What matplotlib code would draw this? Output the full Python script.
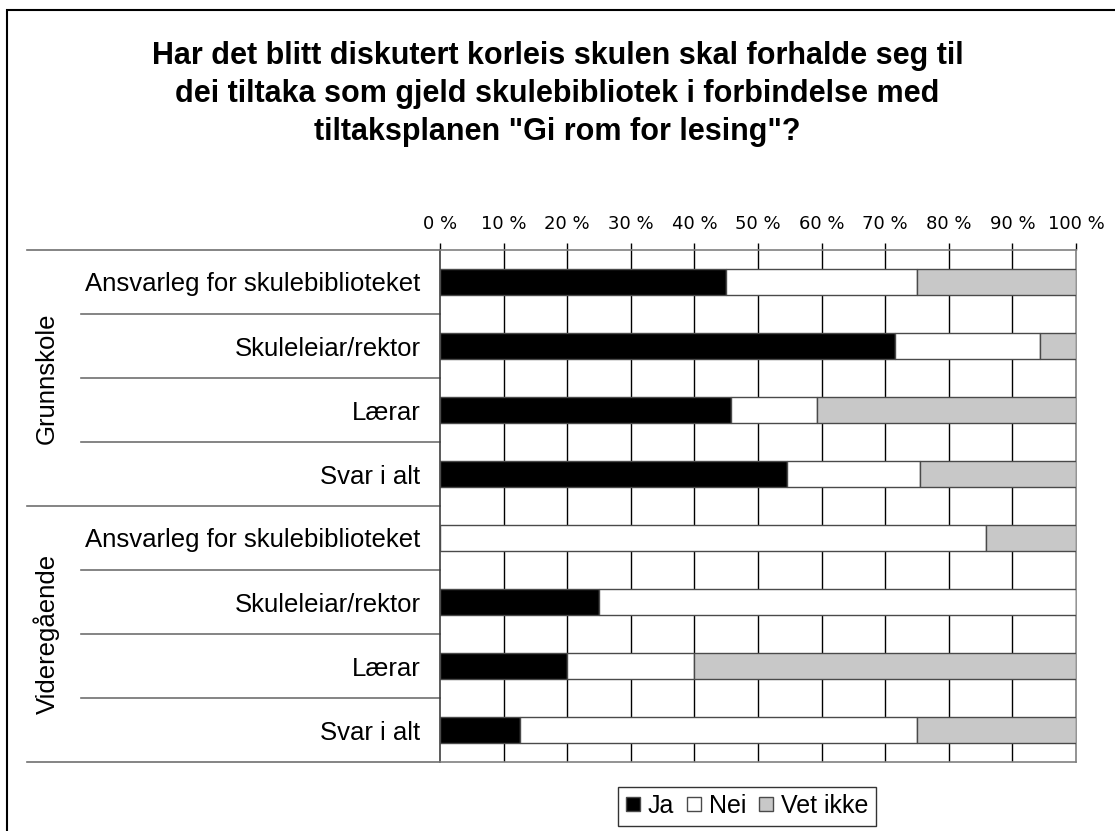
import numpy as np
import matplotlib
matplotlib.use("Agg")
import matplotlib.pyplot as plt
import matplotlib.transforms as mtransforms
from matplotlib.patches import Rectangle
from matplotlib.lines import Line2D

plt.rcParams['font.family'] = ['Liberation Sans', 'DejaVu Sans']

title = 'Har det blitt diskutert korleis skulen skal forhalde seg til\ndei tiltaka som gjeld skulebibliotek i forbindelse med\ntiltaksplanen "Gi rom for lesing"?'
groups = ["Grunnskole", "Videregående"]
categories = ["Ansvarleg for skulebiblioteket", "Skuleleiar/rektor", "Lærar", "Svar i alt",
              "Ansvarleg for skulebiblioteket", "Skuleleiar/rektor", "Lærar", "Svar i alt"]
series = ["Ja", "Nei", "Vet ikke"]
ja = [45.0, 71.6, 45.7, 54.5, 0.0, 25.0, 20.0, 12.5]
nei = [30.0, 22.7, 13.6, 20.9, 85.8, 75.0, 20.0, 62.5]
vet = [25.0, 5.7, 40.7, 24.6, 14.2, 0.0, 60.0, 25.0]
xticks = [0, 10, 20, 30, 40, 50, 60, 70, 80, 90, 100]

colors = ['#000000', '#ffffff', '#c8c8c8']
edge = '#4a4a4a'

fig = plt.figure(figsize=(11.15, 8.31), dpi=100)
ax = fig.add_axes([440/1115, 1-762/831, 636/1115, 512/831])

y = np.arange(len(categories))
left = np.zeros(len(categories))
for name, vals, c in zip(series, [ja, nei, vet], colors):
    ax.barh(y, vals, left=left, height=0.42, color=c, edgecolor=edge, linewidth=1, label=name, zorder=3)
    left = left + np.array(vals)

ax.set_xlim(0, 100)
ax.set_ylim(len(categories)-0.5, -0.5)

# vertical gridlines
for t in xticks[1:-1]:
    ax.axvline(t, color='black', linewidth=1, zorder=1)

ax.xaxis.tick_top()
ax.set_xticks(xticks)
ax.set_xticklabels([f"{t} %" for t in xticks], fontsize=13, family='DejaVu Sans')
ax.tick_params(axis='x', length=5, width=1, color='black', pad=7)

ax.set_yticks(y)
ax.set_yticklabels(categories, fontsize=18.5)
ax.tick_params(axis='y', length=0, pad=14)

for s in ['top', 'bottom', 'right']:
    ax.spines[s].set_color('#808080')
    ax.spines[s].set_linewidth(1.2)
ax.spines['left'].set_color('#404040')
ax.spines['left'].set_linewidth(1.2)

# category separators to the left of the axis
trans = mtransforms.blended_transform_factory(ax.transAxes, ax.transData)
inner_x = (81-440)/636
outer_x = (27-440)/636
for b in np.arange(-0.5, len(categories), 1.0):
    x0 = outer_x if b in (-0.5, 3.5, 7.5) else inner_x
    ax.add_line(Line2D([x0, 0], [b, b], transform=trans, color='#707070', linewidth=1.2, clip_on=False))

group_x = (47-440)/636
for i, g in enumerate(groups):
    ax.text(group_x, 1.5 + 4*i, g, transform=trans, rotation=90, ha='center', va='center', fontsize=18.5)

fig.text(0.5, 1-94/831, title, ha='center', va='center', fontsize=22, fontweight='bold', linespacing=1.33)

handles = [Line2D([], [], marker='s', linestyle='none', markersize=10, markerfacecolor=c,
                  markeredgecolor=edge, markeredgewidth=1) for c in colors]
leg = fig.legend(handles, series, loc='center', bbox_to_anchor=(747/1115, 1-806/831), ncol=3,
                 fontsize=18, frameon=True, fancybox=False, edgecolor='black', handlelength=0.6,
                 handletextpad=0.3, columnspacing=0.5, borderpad=0.3)
leg.get_frame().set_linewidth(1)

fig.patches.append(Rectangle((7/1115, -0.1), 1.2, 1.1 - 10/831, transform=fig.transFigure,
                             fill=False, edgecolor='black', linewidth=1.5, clip_on=False))

fig.savefig('out.png', dpi=100)
